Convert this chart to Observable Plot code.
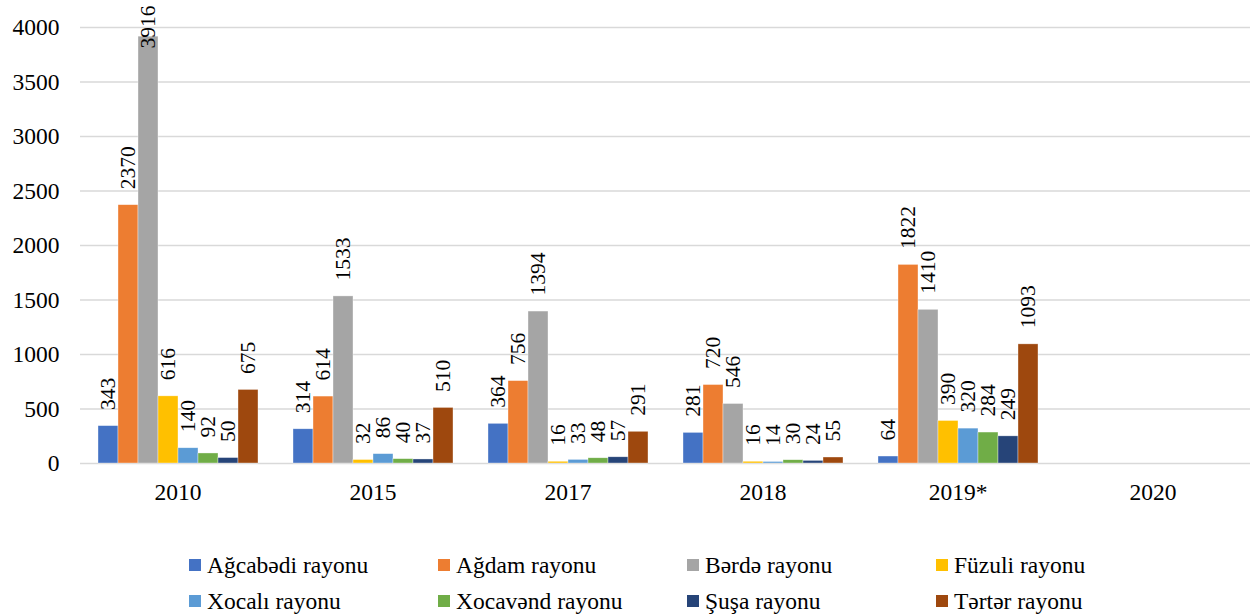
<!DOCTYPE html>
<html>
<head>
<meta charset="utf-8">
<script src="https://cdn.jsdelivr.net/npm/d3@7"></script>
<script src="https://cdn.jsdelivr.net/npm/@observablehq/plot@0.6"></script>
<style>
  html, body { margin: 0; padding: 0; background: #fff; }
  #chart svg { display: block; }
  #chart svg, #chart svg text { font-family: 'Liberation Serif', 'Times New Roman', serif !important; }
  .legend { display: grid; grid-template-columns: repeat(4, 249px); padding-left: 189px; margin-top: 27px;
            font-family: 'Liberation Serif', 'Times New Roman', serif !important; font-size: 23.5px; color: #000; }
  .legend .item { display: flex; align-items: center; height: 36px; white-space: nowrap; }
  .legend .sw { width: 12px; height: 12px; margin-right: 6px; flex: none; }
</style>
</head>
<body>
<div id="chart"></div>
<div class="legend" id="legend"></div>
<script>
const years = ["2010", "2015", "2017", "2018", "2019*", "2020"];
const seriesNames = ["Ağcabədi rayonu", "Ağdam rayonu", "Bərdə rayonu", "Füzuli rayonu",
                     "Xocalı rayonu", "Xocavənd rayonu", "Şuşa rayonu", "Tərtər rayonu"];
const colors = ["#4472C4", "#ED7D31", "#A5A5A5", "#FFC000", "#5B9BD5", "#70AD47", "#264478", "#9E480E"];
const agcabedi = [343, 314, 364, 281, 64, null];
const agdam    = [2370, 614, 756, 720, 1822, null];
const berde    = [3916, 1533, 1394, 546, 1410, null];
const fuzuli   = [616, 32, 16, 16, 390, null];
const xocali   = [140, 86, 33, 14, 320, null];
const xocavend = [92, 40, 48, 30, 284, null];
const susa     = [50, 37, 57, 24, 249, null];
const terter   = [675, 510, 291, 55, 1093, null];
const yTicks = [0, 500, 1000, 1500, 2000, 2500, 3000, 3500, 4000];

const seriesValues = [agcabedi, agdam, berde, fuzuli, xocali, xocavend, susa, terter];
const rows = [];
years.forEach((yr, i) => {
  seriesNames.forEach((s, j) => rows.push({year: yr, series: s, value: seriesValues[j][i]}));
});
const labeled = rows.filter(d => d.value != null);
const normal = labeled.filter(d => d.value < 3600);
const clamped = labeled.filter(d => d.value >= 3600);
const FONT = "'Liberation Serif', 'Times New Roman', serif";

const plot = Plot.plot({
  width: 1251,
  height: 520,
  marginTop: 27,
  marginBottom: 57,
  marginLeft: 78,
  marginRight: 0,
  style: {fontFamily: FONT, fontSize: "23.5px", color: "#000", background: "#fff"},
  fx: {domain: years, padding: 0, label: null, tickSize: 0, tickPadding: 20},
  x: {domain: seriesNames, paddingInner: 0, paddingOuter: 0.75, axis: null},
  y: {domain: [0, 4000], ticks: yTicks, tickFormat: d => String(d), tickSize: 0, tickPadding: 21, label: null},
  color: {domain: seriesNames, range: colors},
  marks: [
    Plot.ruleY(yTicks, {stroke: "#d9d9d9", strokeWidth: 1.6}),
    Plot.barY(rows, {fx: "year", x: "series", y: "value", fill: "series", stroke: "#ffffff", strokeWidth: 0.6, strokeOpacity: 0.6}),
    Plot.text(normal, {fx: "year", x: "series", y: "value", text: d => String(d.value),
      rotate: -90, textAnchor: "start", lineAnchor: "middle", dy: -16, fontSize: 21.5, fontFamily: FONT, fill: "#000"}),
    Plot.text(clamped, {fx: "year", x: "series", frameAnchor: "top", text: d => String(d.value),
      rotate: -90, textAnchor: "end", lineAnchor: "middle", dy: -22, fontSize: 21.5, fontFamily: FONT, fill: "#000"})
  ]
});
document.getElementById("chart").appendChild(plot);

const legend = document.getElementById("legend");
seriesNames.forEach((s, i) => {
  const item = document.createElement("div");
  item.className = "item";
  const sw = document.createElement("span");
  sw.className = "sw";
  sw.style.background = colors[i];
  const t = document.createElement("span");
  t.textContent = s;
  item.appendChild(sw);
  item.appendChild(t);
  legend.appendChild(item);
});
</script>
</body>
</html>
